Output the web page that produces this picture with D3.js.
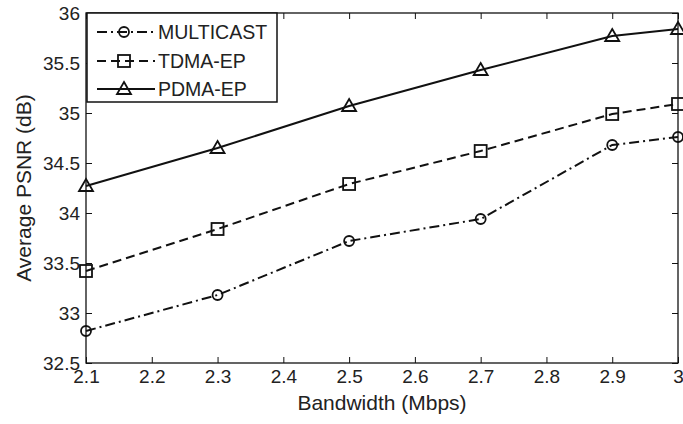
<!DOCTYPE html>
<html><head><meta charset="utf-8">
<script src="https://cdn.jsdelivr.net/npm/d3@7"></script>
<style>body{margin:0;background:#fff}svg{display:block}text{font-family:"Liberation Sans",Arial,sans-serif;fill:#222}</style>
</head><body><svg id="c" width="683" height="424"></svg>
<script>
const bandwidth = [2.1, 2.3, 2.5, 2.7, 2.9, 3.0];
const multicast = [32.82, 33.18, 33.72, 33.94, 34.68, 34.76];
const tdmaEP    = [33.42, 33.84, 34.29, 34.62, 34.99, 35.09];
const pdmaEP    = [34.27, 34.65, 35.07, 35.43, 35.77, 35.84];
const xTicks = [2.1, 2.2, 2.3, 2.4, 2.5, 2.6, 2.7, 2.8, 2.9, 3.0];
const yTicks = [32.5, 33, 33.5, 34, 34.5, 35, 35.5, 36];
const seriesNames = ["MULTICAST", "TDMA-EP", "PDMA-EP"];

const L = 86, R = 678, T = 13, B = 363;
const svg = d3.select("#c");
const x = d3.scaleLinear().domain([2.1, 3.0]).range([L, R]);
const y = d3.scaleLinear().domain([32.5, 36]).range([B, T]);
const fmt = d => (d === 3 ? "3" : d3.format("~g")(d));

const gx = svg.append("g").attr("transform", `translate(0,${B})`)
  .call(d3.axisBottom(x).tickValues(xTicks).tickSize(-6).tickPadding(7).tickFormat(fmt));
const gy = svg.append("g").attr("transform", `translate(${L},0)`)
  .call(d3.axisLeft(y).tickValues(yTicks).tickSize(-6).tickPadding(6).tickFormat(fmt));
const gxt = svg.append("g").attr("transform", `translate(0,${T})`)
  .call(d3.axisTop(x).tickValues(xTicks).tickSize(-6).tickFormat(""));
const gyr = svg.append("g").attr("transform", `translate(${R},0)`)
  .call(d3.axisRight(y).tickValues(yTicks).tickSize(-6).tickFormat(""));
[gx, gy, gxt, gyr].forEach(g => {
  g.select(".domain").remove();
  g.selectAll(".tick line").attr("stroke", "#111").attr("stroke-width", 1);
  g.selectAll(".tick text").attr("font-size", 19).attr("fill", "#333")
    .style("font-family", "'Liberation Sans',Arial,sans-serif");
});
gy.selectAll(".tick text").attr("dy", "0.35em");
gx.selectAll(".tick text").attr("dy", "0.7em");

svg.append("rect").attr("x", L).attr("y", T).attr("width", R - L).attr("height", B - T)
  .attr("fill", "none").attr("stroke", "#111").attr("stroke-width", 1.3);

const data = [multicast, tdmaEP, pdmaEP];
const dashes = ["10,4,2,4", "9,5", null];
const line = d3.line().x((d, i) => x(bandwidth[i])).y(d => y(d));

function marker(g, k, cx, cy) {
  if (k === 0) g.append("circle").attr("cx", cx).attr("cy", cy).attr("r", 5);
  else if (k === 1) g.append("rect").attr("x", cx - 6).attr("y", cy - 6).attr("width", 12).attr("height", 12);
  else g.append("path").attr("d", `M${cx},${cy - 7}L${cx + 7},${cy + 5}L${cx - 7},${cy + 5}Z`);
}

data.forEach((vals, k) => {
  svg.append("path").datum(vals).attr("d", line).attr("fill", "none")
    .attr("stroke", "#111").attr("stroke-width", 2)
    .attr("stroke-dasharray", dashes[k]);
  const g = svg.append("g").attr("fill", "none").attr("stroke", "#111").attr("stroke-width", 1.8);
  vals.forEach((v, i) => marker(g, k, x(bandwidth[i]), y(v)));
});

// legend
svg.append("rect").attr("x", 87).attr("y", 13).attr("width", 190).attr("height", 89)
  .attr("fill", "#fff").attr("stroke", "#111").attr("stroke-width", 1.5);
const legY = [32, 61, 89];
seriesNames.forEach((name, k) => {
  const yy = legY[k];
  svg.append("line").attr("x1", 97).attr("x2", 155).attr("y1", yy).attr("y2", yy)
    .attr("stroke", "#111").attr("stroke-width", 2).attr("stroke-dasharray", dashes[k]);
  const g = svg.append("g").attr("fill", "none").attr("stroke", "#111").attr("stroke-width", 1.8);
  marker(g, k, 124, yy);
  svg.append("text").attr("x", 158).attr("y", yy).attr("dy", "0.36em")
    .attr("font-size", 19.5).attr("fill", "#333").text(name);
});

svg.append("text").attr("x", (L + R) / 2).attr("y", 410).attr("text-anchor", "middle")
  .attr("font-size", 21).attr("fill", "#333").text("Bandwidth (Mbps)");
svg.append("text").attr("transform", `translate(24,${(T + B) / 2}) rotate(-90)`)
  .attr("text-anchor", "middle").attr("dy", "0.35em")
  .attr("font-size", 21).attr("fill", "#333").text("Average PSNR (dB)");
</script></body></html>
